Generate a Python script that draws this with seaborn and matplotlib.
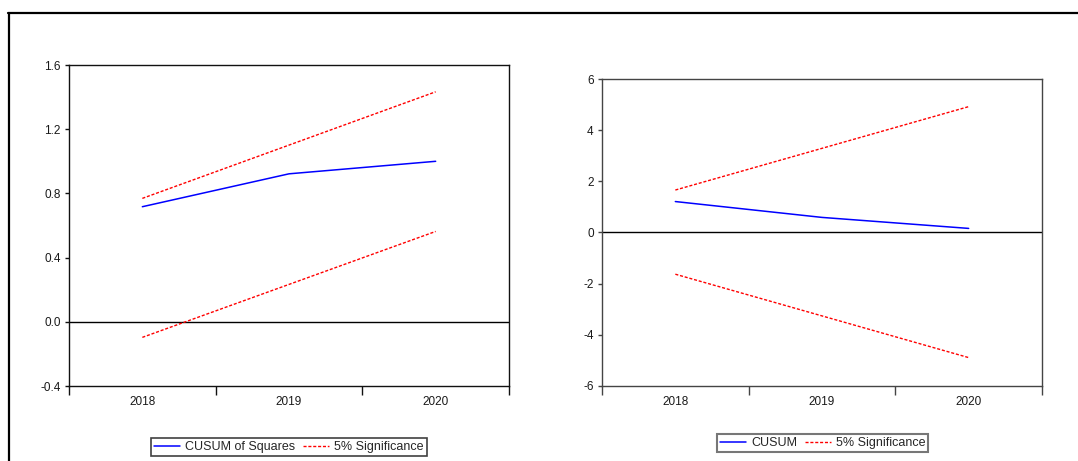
import matplotlib
matplotlib.use("Agg")
import matplotlib.pyplot as plt
from matplotlib.lines import Line2D
import numpy as np
import pandas as pd
import seaborn as sns

# ---- data -------------------------------------------------------------
years = [2018, 2019, 2020]

cusumsq = [0.717, 0.922, 1.000]
cusumsq_upper = [0.769, 1.101, 1.433]
cusumsq_lower = [-0.097, 0.233, 0.563]
cusumsq_yticks = [-0.4, 0.0, 0.4, 0.8, 1.2, 1.6]
cusumsq_yticklabels = ["-0.4", "0.0", "0.4", "0.8", "1.2", "1.6"]

cusum = [1.21, 0.59, 0.16]
cusum_upper = [1.66, 3.29, 4.92]
cusum_lower = [-1.63, -3.26, -4.89]
cusum_yticks = [-6, -4, -2, 0, 2, 4, 6]
cusum_yticklabels = ["-6", "-4", "-2", "0", "2", "4", "6"]

year_labels = ["2018", "2019", "2020"]

# ---- style ------------------------------------------------------------
sns.set_theme(style="white")
plt.rcParams["font.family"] = ["Liberation Sans", "DejaVu Sans"]

W, H = 1078, 461
fig = plt.figure(figsize=(W / 100, H / 100), dpi=100)


def px_rect(x0, y0, x1, y1):
    return [x0 / W, 1 - y1 / H, (x1 - x0) / W, (y1 - y0) / H]


def draw_panel(ax, stat, upper, lower, label, yticks, yticklabels, spine_color):
    df = pd.DataFrame({"year": years, "stat": stat, "upper": upper, "lower": lower})
    sns.lineplot(data=df, x="year", y="stat", ax=ax, color="#0000ff", lw=1.1)
    sns.lineplot(data=df, x="year", y="upper", ax=ax, color="#ff0000", lw=1.0,
                 dashes=False, linestyle=(0, (2.2, 1.3)))
    sns.lineplot(data=df, x="year", y="lower", ax=ax, color="#ff0000", lw=1.0,
                 linestyle=(0, (2.2, 1.3)))
    ax.axhline(0, color="black", lw=1.0, zorder=1)

    ax.set_xlim(years[0] - 0.5, years[-1] + 0.5)
    ax.set_ylim(yticks[0], yticks[-1])
    ax.set_xlabel("")
    ax.set_ylabel("")

    # major x ticks mark the year boundaries, minor ticks carry the labels
    ax.set_xticks([y - 0.5 for y in years] + [years[-1] + 0.5])
    ax.set_xticklabels([])
    ax.set_xticks(years, minor=True)
    ax.set_xticklabels(year_labels, minor=True)
    ax.tick_params(axis="x", which="major", direction="out", length=6.5,
                   width=1.0, color=spine_color, bottom=True)
    ax.tick_params(axis="x", which="minor", length=0, pad=7.5,
                   labelsize=8.5, labelcolor="#1a1a1a")

    ax.set_yticks(yticks)
    ax.set_yticklabels(yticklabels)
    ax.tick_params(axis="y", direction="out", length=3, width=1.0,
                   color=spine_color, pad=3, labelsize=8.5,
                   labelcolor="#1a1a1a", left=True)

    for s in ax.spines.values():
        s.set_visible(True)
        s.set_color(spine_color)
        s.set_linewidth(1.0)
    ax.grid(False)
    legend = ax.get_legend()
    if legend is not None:
        legend.remove()

    handles = [
        Line2D([], [], color="#0000ff", lw=1.1),
        Line2D([], [], color="#ff0000", lw=1.0, linestyle=(0, (2.2, 1.3))),
    ]
    return handles, [label, "5% Significance"]


ax1 = fig.add_axes(px_rect(69, 65, 509, 386))
h1, l1 = draw_panel(ax1, cusumsq, cusumsq_upper, cusumsq_lower,
                    "CUSUM of Squares", cusumsq_yticks, cusumsq_yticklabels, "#111111")

ax2 = fig.add_axes(px_rect(602, 79, 1042, 386))
h2, l2 = draw_panel(ax2, cusum, cusum_upper, cusum_lower,
                    "CUSUM", cusum_yticks, cusum_yticklabels, "#444444")

leg_kw = dict(loc="center", ncol=2, fontsize=9, frameon=True, fancybox=False,
              handlelength=2.1, handletextpad=0.4, columnspacing=0.6,
              borderpad=0.25, borderaxespad=0.0)
leg1 = fig.legend(h1, l1, bbox_to_anchor=(289 / W, 1 - 447 / H), **leg_kw)
leg1.get_frame().set_edgecolor("#111111")
leg1.get_frame().set_linewidth(1.2)
leg2 = fig.legend(h2, l2, bbox_to_anchor=(822.5 / W, 1 - 443 / H), **leg_kw)
leg2.get_frame().set_edgecolor("#555555")
leg2.get_frame().set_linewidth(1.5)

# outer frame around the report page
fig.add_artist(Line2D([8 / W, 1.0], [1 - 13 / H, 1 - 13 / H],
                      transform=fig.transFigure, color="black", lw=1.6))
fig.add_artist(Line2D([8.5 / W, 8.5 / W], [1 - 13 / H, 0.0],
                      transform=fig.transFigure, color="black", lw=1.6))

fig.savefig("out.png", dpi=100)
